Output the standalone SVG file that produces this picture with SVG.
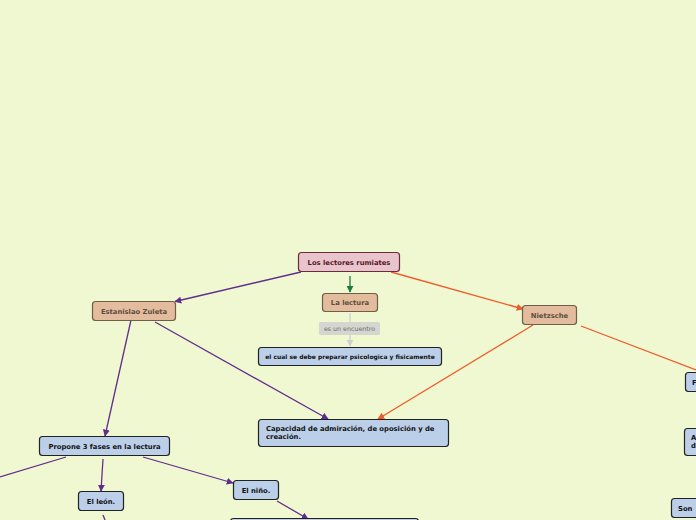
<svg xmlns="http://www.w3.org/2000/svg" width="696" height="520" viewBox="0 0 696 520">
<style>
.n rect{stroke-width:1.2}
.root rect{fill:#e8c4cc;stroke:#6e2a3c}
.root text{fill:#5a1628}
.sub rect{fill:#e2bc9c;stroke:#6e6048}
.sub text{fill:#5e4e42}
.leaf rect{fill:#bccfe8;stroke:#222}
.leaf text{fill:#111}
text{font-family:"DejaVu Sans",Verdana,sans-serif;font-weight:bold;font-size:6.8px}
.c path{fill:none;stroke-width:1.3}
.p{stroke:#612d8c}
.o{stroke:#f05a28}
.g{stroke:#1e7a3e}
.gr{stroke:#cfcfcf}
</style>
<defs>
<marker id="ap" viewBox="0 0 10 10" refX="9" refY="5" markerWidth="7" markerHeight="7" orient="auto" markerUnits="userSpaceOnUse"><path d="M0,0L10,5L0,10z" fill="#612d8c"/></marker>
<marker id="ao" viewBox="0 0 10 10" refX="9" refY="5" markerWidth="7" markerHeight="7" orient="auto" markerUnits="userSpaceOnUse"><path d="M0,0L10,5L0,10z" fill="#f05a28"/></marker>
<marker id="ag" viewBox="0 0 10 10" refX="9" refY="5" markerWidth="7" markerHeight="7" orient="auto" markerUnits="userSpaceOnUse"><path d="M0,0L10,5L0,10z" fill="#1e7a3e"/></marker>
<marker id="agr" viewBox="0 0 10 10" refX="9" refY="5" markerWidth="7" markerHeight="7" orient="auto" markerUnits="userSpaceOnUse"><path d="M0,0L10,5L0,10z" fill="#cfcfcf"/></marker>
</defs>
<rect width="696" height="520" fill="#eff8d1"/>
<g id="connectors" class="c">
<path class="p" d="M301,272L175,301.5" marker-end="url(#ap)"/>
<path class="o" d="M391,272L523,309" marker-end="url(#ao)"/>
<path class="g" d="M350,276L350,292" marker-end="url(#ag)"/>
<path class="gr" d="M350,313L350,322"/>
<path class="gr" d="M350,335L350,346" marker-end="url(#agr)"/>
<path class="o" d="M533,325L378,419" marker-end="url(#ao)"/>
<path class="o" d="M581,326L696,370"/>
<path class="p" d="M131,320L105,436" marker-end="url(#ap)"/>
<path class="p" d="M155,322L328,419" marker-end="url(#ap)"/>
<path class="p" d="M66,457L0,477"/>
<path class="p" d="M103,459L101,491" marker-end="url(#ap)"/>
<path class="p" d="M143,457L233,483" marker-end="url(#ap)"/>
<path class="p" d="M103,515L105,520"/>
<path class="p" d="M277,501L308,519" marker-end="url(#ap)"/>
</g>
<g id="n-root" class="n root"><rect x="298.5" y="252.5" width="101" height="19" rx="3"/><text x="349" y="264.5" text-anchor="middle">Los lectores rumiates</text></g>
<g id="n-lectura" class="n sub"><rect x="322.5" y="293.5" width="55" height="18" rx="3"/><text x="350" y="305" text-anchor="middle">La lectura</text></g>
<g id="l-encuentro"><rect x="319" y="322" width="61" height="13" rx="1.5" fill="#d6d6d0"/><text x="349.5" y="331" text-anchor="middle" style="font-weight:normal;font-size:6.3px;fill:#6a6a6a">es un encuentro</text></g>
<g id="n-cual" class="n leaf"><rect x="258.5" y="347.5" width="183" height="18" rx="3"/><text x="350" y="358.8" text-anchor="middle" style="font-size:6px">el cual se debe preparar psicologica y fisicamente</text></g>
<g id="n-zuleta" class="n sub"><rect x="92.5" y="301.5" width="83" height="19" rx="3"/><text x="134" y="313.5" text-anchor="middle">Estanislao Zuleta</text></g>
<g id="n-nietzsche" class="n sub"><rect x="522.5" y="305.5" width="54" height="19" rx="3"/><text x="549.5" y="317.5" text-anchor="middle">Nietzsche</text></g>
<g id="n-capacidad" class="n leaf"><rect x="258.5" y="419.5" width="190" height="27" rx="3"/><text x="266" y="430.5">Capacidad de admiración, de oposición y de</text><text x="266" y="439">creación.</text></g>
<g id="n-propone" class="n leaf"><rect x="39.5" y="436.5" width="130" height="19" rx="3"/><text x="104.5" y="448.5" text-anchor="middle">Propone 3 fases en la lectura</text></g>
<g id="n-leon" class="n leaf"><rect x="78.5" y="491.5" width="45" height="19" rx="3"/><text x="101" y="503.5" text-anchor="middle">El león.</text></g>
<g id="n-nino" class="n leaf"><rect x="233.5" y="480.5" width="45" height="19" rx="3"/><text x="256" y="492.5" text-anchor="middle">El niño.</text></g>
<g id="n-bottom" class="n leaf"><rect x="230.5" y="518.5" width="188" height="19" rx="3"/></g>
<g id="n-f" class="n leaf"><rect x="685.5" y="372.5" width="40" height="19" rx="3"/><text x="692" y="384.5">F</text></g>
<g id="n-a" class="n leaf"><rect x="684.5" y="428.5" width="40" height="27" rx="3"/><text x="691" y="439.5">A</text><text x="691" y="448">d</text></g>
<g id="n-son" class="n leaf"><rect x="671.5" y="498.5" width="40" height="19" rx="3"/><text x="678" y="510.5">Son</text></g>
</svg>
